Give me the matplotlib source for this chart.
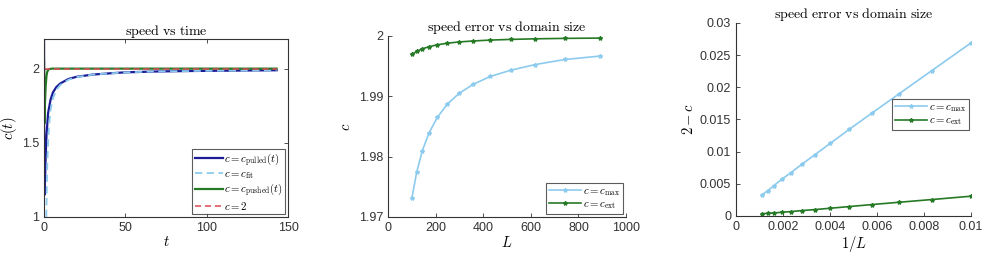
import numpy as np
import matplotlib
matplotlib.use('Agg')
import matplotlib.pyplot as plt

plt.rcParams['font.family'] = ['Liberation Sans', 'DejaVu Sans']
plt.rcParams['mathtext.fontset'] = 'cm'
plt.rcParams['font.size'] = 8.5

# ----- data -----
t_pulled = [0, 0.05, 0.3, 0.6, 1, 1.5, 2.5, 4, 5.5, 7.5, 10, 15, 20, 30, 40, 50, 70, 90, 110, 130, 143]
c_pulled = [2.25, 1.6, 1.15, 1.25, 1.40, 1.55, 1.70, 1.79, 1.84, 1.875, 1.90, 1.93, 1.945, 1.96,
            1.968, 1.975, 1.981, 1.984, 1.986, 1.988, 1.989]

t_fit = [1.4, 1.7, 2, 2.5, 3, 4, 5.5, 7.5, 10, 15, 20, 30, 50, 70, 90, 110, 130, 143]
c_fit = [1.0, 1.2, 1.35, 1.5, 1.6, 1.72, 1.8, 1.855, 1.89, 1.925, 1.943, 1.96, 1.975, 1.981,
         1.984, 1.986, 1.987, 1.988]

t_pushed = [0, 0.2, 0.5, 1, 1.5, 2, 3, 5, 143]
c_pushed = [2.05, 1.63, 1.75, 1.88, 1.95, 1.98, 1.997, 2.0, 2.0]

t_ref = [0, 143]
c_ref = [2, 2]

L = [100, 120, 144, 172.8, 207.4, 248.8, 298.6, 358.3, 430, 516, 619.2, 743, 891.6]
c_max = [1.9731, 1.9774, 1.9810, 1.9840, 1.98653, 1.9887, 1.9905, 1.9920, 1.9933,
         1.99433, 1.99527, 1.9961, 1.99667]
c_ext = [1.99693, 1.99745, 1.99787, 1.99823, 1.99854, 1.9988, 1.99901, 1.99917,
         1.99932, 1.99943, 1.99953, 1.9996, 1.99965]

DARK_BLUE = '#1c1c96'
LIGHT_BLUE = '#8ccbee'
GREEN = '#267a26'
RED = '#dd4a55'
AX_COL = '#333333'


def style(ax, box):
    for s in ax.spines.values():
        s.set_color(AX_COL)
        s.set_linewidth(0.8)
    if not box:
        ax.spines['top'].set_visible(False)
        ax.spines['right'].set_visible(False)
    ax.tick_params(direction='in', length=3, width=0.6, colors=AX_COL,
                   top=box, right=box, labelsize=9)


fig = plt.figure(figsize=(9.85, 2.58), dpi=100)

# ----- panel 1: speed vs time -----
ax1 = fig.add_axes([0.0447, 0.159, 0.2477, 0.690])
ax1.plot(t_pulled, c_pulled, color=DARK_BLUE, lw=1.6, label=r'$c=c_{\mathrm{pulled}}(t)$')
ax1.plot(t_fit, c_fit, color=LIGHT_BLUE, lw=1.3, ls=(0, (4, 2.5)), label=r'$c=c_{\mathrm{fit}}$')
ax1.plot(t_pushed, c_pushed, color=GREEN, lw=1.6, label=r'$c=c_{\mathrm{pushed}}(t)$')
ax1.plot(t_ref, c_ref, color=RED, lw=1.1, ls=(0, (4, 2.5)), label=r'$c=2$')
ax1.set_xlim(0, 150)
ax1.set_ylim(1, 2.2)
ax1.set_xticks([0, 50, 100, 150])
ax1.set_yticks([1, 1.5, 2])
ax1.set_yticklabels(['1', '1.5', '2'])
ax1.set_xlabel(r'$t$', fontsize=10.5, labelpad=1)
ax1.set_ylabel(r'$c(t)$', fontsize=10.5, labelpad=2)
ax1.set_title(r'$\mathrm{speed\ vs\ time}$', fontsize=10, pad=3)
style(ax1, True)
leg = ax1.legend(loc='lower right', fontsize=7.8, frameon=True, fancybox=False,
                 edgecolor=AX_COL, borderpad=0.2, labelspacing=0.1, handlelength=2.6,
                 handletextpad=0.1, borderaxespad=0.3)
leg.get_frame().set_linewidth(0.8)

# ----- panel 2: c vs L -----
ax2 = fig.add_axes([0.394, 0.159, 0.2416, 0.7016])
ax2.plot(L, c_max, color=LIGHT_BLUE, lw=1.2, marker='*', ms=3, label=r'$c=c_{\max}$')
ax2.plot(L, c_ext, color=GREEN, lw=1.2, marker='*', ms=3, label=r'$c=c_{\mathrm{ext}}$')
ax2.set_xlim(0, 1000)
ax2.set_ylim(1.97, 2.0)
ax2.set_xticks([0, 200, 400, 600, 800, 1000])
ax2.set_yticks([1.97, 1.98, 1.99, 2.0])
ax2.set_yticklabels(['1.97', '1.98', '1.99', '2'])
ax2.set_xlabel(r'$L$', fontsize=10.5, labelpad=1)
ax2.set_ylabel(r'$c$', fontsize=10.5, labelpad=4)
ax2.set_title(r'$\mathrm{speed\ error\ vs\ domain\ size}$', fontsize=10, pad=3)
style(ax2, False)
leg = ax2.legend(loc='lower right', fontsize=7.8, frameon=True, fancybox=False,
                 edgecolor=AX_COL, borderpad=0.25, labelspacing=0.15, handlelength=3,
                 handletextpad=0.1, borderaxespad=0.3)
leg.get_frame().set_linewidth(0.8)

# ----- panel 3: 2 - c vs 1/L -----
invL = 1.0 / np.array(L)
ax3 = fig.add_axes([0.7472, 0.163, 0.2386, 0.748])
ax3.plot(invL, 2 - np.array(c_max), color=LIGHT_BLUE, lw=1.2, marker='*', ms=3,
         label=r'$c=c_{\max}$')
ax3.plot(invL, 2 - np.array(c_ext), color=GREEN, lw=1.2, marker='*', ms=3,
         label=r'$c=c_{\mathrm{ext}}$')
ax3.set_xlim(0, 0.01)
ax3.set_ylim(0, 0.03)
xt = [0, 0.002, 0.004, 0.006, 0.008, 0.01]
yt = [0, 0.005, 0.01, 0.015, 0.02, 0.025, 0.03]
ax3.set_xticks(xt)
ax3.set_xticklabels(['0', '0.002', '0.004', '0.006', '0.008', '0.01'])
ax3.set_yticks(yt)
ax3.set_yticklabels(['0', '0.005', '0.01', '0.015', '0.02', '0.025', '0.03'])
ax3.set_xlabel(r'$1/L$', fontsize=10.5, labelpad=1)
ax3.set_ylabel(r'$2-c$', fontsize=10.5, labelpad=3)
ax3.set_title(r'$\mathrm{speed\ error\ vs\ domain\ size}$', fontsize=10, pad=3)
style(ax3, False)
leg = ax3.legend(loc='center right', bbox_to_anchor=(1.0, 0.525), fontsize=7.8, frameon=True,
                 fancybox=False, edgecolor=AX_COL, borderpad=0.25, labelspacing=0.15,
                 handlelength=3, handletextpad=0.1, borderaxespad=0.2)
leg.get_frame().set_linewidth(0.8)

fig.savefig('out.png', dpi=100)
